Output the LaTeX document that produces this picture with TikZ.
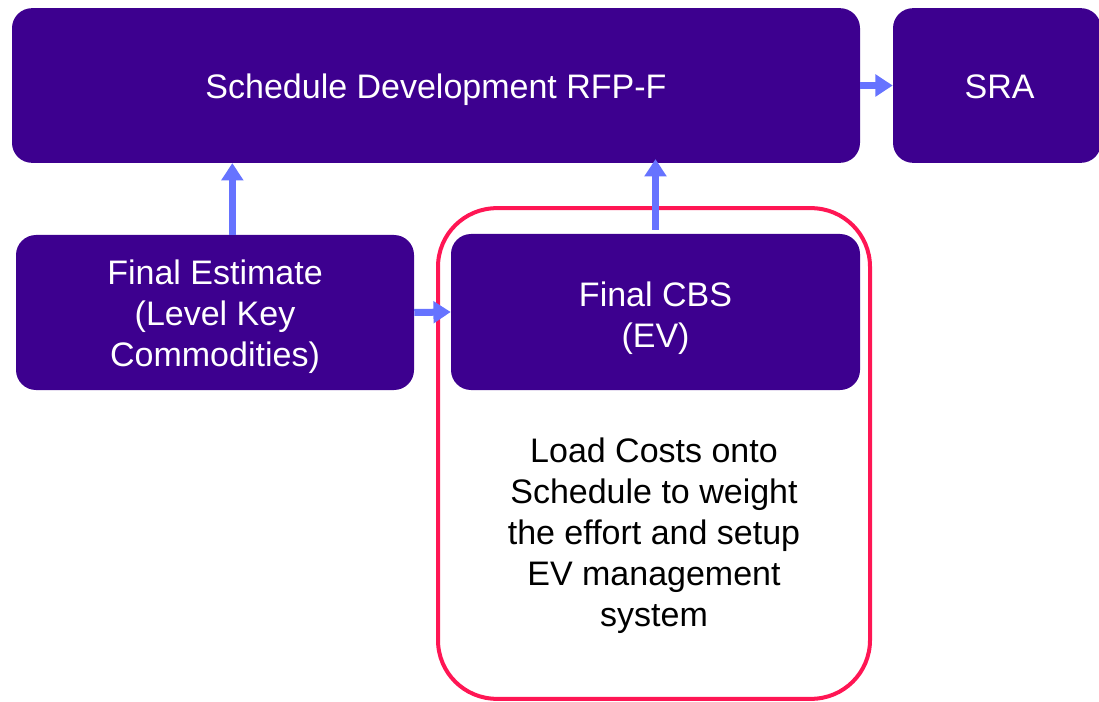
\documentclass[tikz,border=0pt]{standalone}
\usepackage{fontspec}
\setmainfont{Liberation Sans}
\usetikzlibrary{arrows.meta}
\definecolor{boxpurple}{HTML}{3D008F}
\definecolor{flowblue}{HTML}{6673FF}
\definecolor{hilite}{HTML}{FF1654}
\tikzset{
  bodytext/.style={align=center, font=\fontsize{25.5}{30.75}\selectfont},
  stage/.style={draw=none, fill=boxpurple, rounded corners=15pt, inner sep=0pt},
  stagetext/.style={bodytext, text=white, inner sep=0pt},
  flow/.style={draw=flowblue, line width=5.25pt,
    -{Triangle[width=16pt,length=13pt]}},
}
\begin{document}
\begin{tikzpicture}[x=0.75pt,y=-0.75pt]
\useasboundingbox (0,0) rectangle (1099,702);
% process stages
\node[stage, minimum width=636pt, minimum height=116pt] (sched) at (436,85.5) {};
\node[stage, minimum width=156pt, minimum height=116pt] (sra) at (997,85.5) {};
\node[stage, minimum width=298.5pt, minimum height=116.25pt] (est) at (215,312.5) {};
\node[stage, minimum width=306.75pt, minimum height=117pt] (cbs) at (655.5,312) {};
% stage captions
\node[stagetext] (schedtext) at ([yshift=-3.5pt]sched.center) {Schedule Development RFP-F};
\node[stagetext] (sratext) at ([xshift=2pt,yshift=-1pt]sra.center) {SRA};
\node[stagetext] (esttext) at ([yshift=-3.5pt]est.center) {Final Estimate\\(Level Key\\Commodities)};
\node[stagetext] (cbstext) at ([yshift=-5pt]cbs.center) {Final CBS\\(EV)};
% highlighted step with its description
\node[draw=hilite, line width=3pt, rounded corners=44pt, minimum width=324pt, minimum height=368pt, inner sep=0pt] (focus) at (654,453.5) {};
\node[bodytext, text=black] (note) at (654,536) {Load Costs onto\\Schedule to weight\\the effort and setup\\EV management\\system};
% flow arrows
\draw[flow] (sched.east) -- (sra.west);
\draw[flow] ([xshift=13]est.north) -- ([xshift=13]est.north |- sched.south);
\draw[flow] ([yshift=3]cbs.north) -- ([yshift=3]cbs.north |- sched.south);
\draw[flow] (est.east) -- (cbs.west);
\end{tikzpicture}
\end{document}
